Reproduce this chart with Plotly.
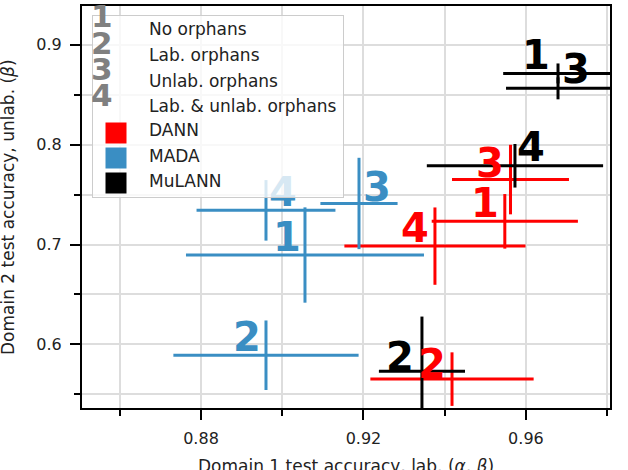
import plotly.graph_objects as go

# ---------------- data ----------------
methods = ["DANN", "MADA", "MuLANN"]
method_colors = ["#ff0000", "#3a8ec3", "#000000"]
case_labels = ["1", "2", "3", "4"]
case_names = ["No orphans", "Lab. orphans", "Unlab. orphans", "Lab. & unlab. orphans"]

dann_x = [0.9548, 0.9418, 0.9562, 0.9376]
dann_y = [0.7232, 0.5653, 0.7650, 0.6984]
dann_xerr = [0.0180, 0.0201, 0.0144, 0.0223]
dann_yerr = [0.0273, 0.0268, 0.0348, 0.0387]

mada_x = [0.9056, 0.8960, 0.9189, 0.8960]
mada_y = [0.6895, 0.5892, 0.7411, 0.7342]
mada_xerr = [0.0293, 0.0228, 0.0095, 0.0171]
mada_yerr = [0.0477, 0.0348, 0.0457, 0.0303]

mulann_x = [0.9679, 0.9344, 0.9679, 0.9573]
mulann_y = [0.8712, 0.5733, 0.8563, 0.7788]
mulann_xerr = [0.0135, 0.0106, 0.0128, 0.0217]
mulann_yerr = [0.0100, 0.0546, 0.0110, 0.0218]

x_ticks = [0.88, 0.92, 0.96]
x_minor = [0.86, 0.90, 0.94, 0.98]
y_ticks = [0.6, 0.7, 0.8, 0.9]
y_minor = [0.55, 0.65, 0.75, 0.85]

x_title = "Domain 1 test accuracy, lab. (<i>α</i>, <i>β</i>)"
y_title = "Domain 2 test accuracy, unlab. (<i>β</i>)"

# ---------------- styling ----------------
FONT = "DejaVu Sans"
FS = 17
W, H = 628, 470
ML, MR, MT, MB = 82, 18, 4, 62
PW, PH = W - ML - MR, H - MT - MB

def px(xp):
    return (xp - ML) / PW

def py(yp):
    return (H - MB - yp) / PH

# label offsets (pixels, dx right, dy down) per method/case
label_offsets = [
    [(-20, -18), (-20, -15), (-20, -17), (-20, -18)],
    [(-18, -18), (-19, -18), (18, -16), (17, -18)],
    [(-22, -18), (-22, -14), (18, -19), (16, -19)],
]

series = [
    (dann_x, dann_y, dann_xerr, dann_yerr),
    (mada_x, mada_y, mada_xerr, mada_yerr),
    (mulann_x, mulann_y, mulann_xerr, mulann_yerr),
]

fig = go.Figure()
annotations = []

for (xs, ys, xe, ye), name, col in zip(series, methods, method_colors):
    fig.add_trace(go.Scatter(
        x=xs, y=ys, mode="markers", name=name,
        marker=dict(size=1, color=col),
        error_x=dict(type="data", array=xe, thickness=3, width=0, color=col),
        error_y=dict(type="data", array=ye, thickness=3, width=0, color=col),
        showlegend=False, hoverinfo="skip",
    ))

for mi, ((xs, ys, xe, ye), col) in enumerate(zip(series, method_colors)):
    for ci, lab in enumerate(case_labels):
        dx, dy = label_offsets[mi][ci]
        annotations.append(dict(
            x=xs[ci], y=ys[ci], xref="x", yref="y", text=lab, showarrow=False,
            xanchor="center", yanchor="middle", xshift=dx, yshift=-dy,
            font=dict(family=FONT, size=40, color=col, weight="bold"),
        ))

# legend box (semi-transparent, drawn above data labels)
annotations.append(dict(
    x=px(92), y=py(13), xref="paper", yref="paper", text=" ", showarrow=False,
    xanchor="left", yanchor="top", width=250, height=181, borderpad=0,
    bgcolor="rgba(255,255,255,0.8)", bordercolor="#cccccc", borderwidth=1,
))

row_y = [27, 53, 79, 104, 129, 155, 180]
num_y = [14, 41, 67, 93]
for i, (lab, nm) in enumerate(zip(case_labels, case_names)):
    annotations.append(dict(
        x=px(102), y=py(num_y[i]), xref="paper", yref="paper", text=lab,
        showarrow=False, xanchor="center", yanchor="middle",
        font=dict(family=FONT, size=31, color="#808080", weight="bold"),
    ))
    annotations.append(dict(
        x=px(147), y=py(row_y[i]), xref="paper", yref="paper", text=nm,
        showarrow=False, xanchor="left", yanchor="middle",
        font=dict(family=FONT, size=FS, color="#222222"),
    ))

sq_y = [132, 157, 182]
for i, (nm, col) in enumerate(zip(methods, method_colors)):
    annotations.append(dict(
        x=px(116), y=py(sq_y[i]), xref="paper", yref="paper", text=" ",
        showarrow=False, xanchor="center", yanchor="middle",
        width=20, height=20, borderpad=0, bgcolor=col,
        font=dict(family=FONT, size=10),
    ))
    annotations.append(dict(
        x=px(147), y=py(row_y[4 + i]), xref="paper", yref="paper", text=nm,
        showarrow=False, xanchor="left", yanchor="middle",
        font=dict(family=FONT, size=FS, color="#222222"),
    ))

# axis titles
annotations.append(dict(
    x=px(346), y=py(466), xref="paper", yref="paper", text=x_title,
    showarrow=False, xanchor="center", yanchor="middle",
    font=dict(family=FONT, size=FS, color="#222222"),
))
annotations.append(dict(
    x=px(8), y=py(206), xref="paper", yref="paper", text=y_title,
    showarrow=False, xanchor="center", yanchor="middle", textangle=-90,
    font=dict(family=FONT, size=FS, color="#222222"),
))

axis_common = dict(
    showline=True, linecolor="black", linewidth=2, mirror=True,
    ticks="outside", ticklen=10, tickwidth=1.5, tickcolor="black",
    showgrid=True, gridcolor="#dddddd", gridwidth=1.5,
    zeroline=False, tickfont=dict(family=FONT, size=16, color="#222222"),
    ticklabelstandoff=5,
)

fig.update_layout(
    width=W, height=H, autosize=False,
    margin=dict(l=ML, r=MR, t=MT, b=MB),
    paper_bgcolor="white", plot_bgcolor="white",
    showlegend=False,
    xaxis=dict(
        range=[0.8507, 0.9807], tickmode="array", tickvals=x_ticks,
        ticktext=[f"{v:.2f}" for v in x_ticks],
        minor=dict(tickmode="array", tickvals=x_minor, ticks="outside", ticklen=6,
                   tickwidth=1.5, tickcolor="black", showgrid=True,
                   gridcolor="#dddddd", gridwidth=1.5),
        **axis_common,
    ),
    yaxis=dict(
        range=[0.5364, 0.9387], tickmode="array", tickvals=y_ticks,
        ticktext=[f"{v:.1f}" for v in y_ticks],
        minor=dict(tickmode="array", tickvals=y_minor, ticks="outside", ticklen=6,
                   tickwidth=1.5, tickcolor="black", showgrid=True,
                   gridcolor="#dddddd", gridwidth=1.5),
        **axis_common,
    ),
    annotations=annotations,
)

fig.write_html("out.html")
